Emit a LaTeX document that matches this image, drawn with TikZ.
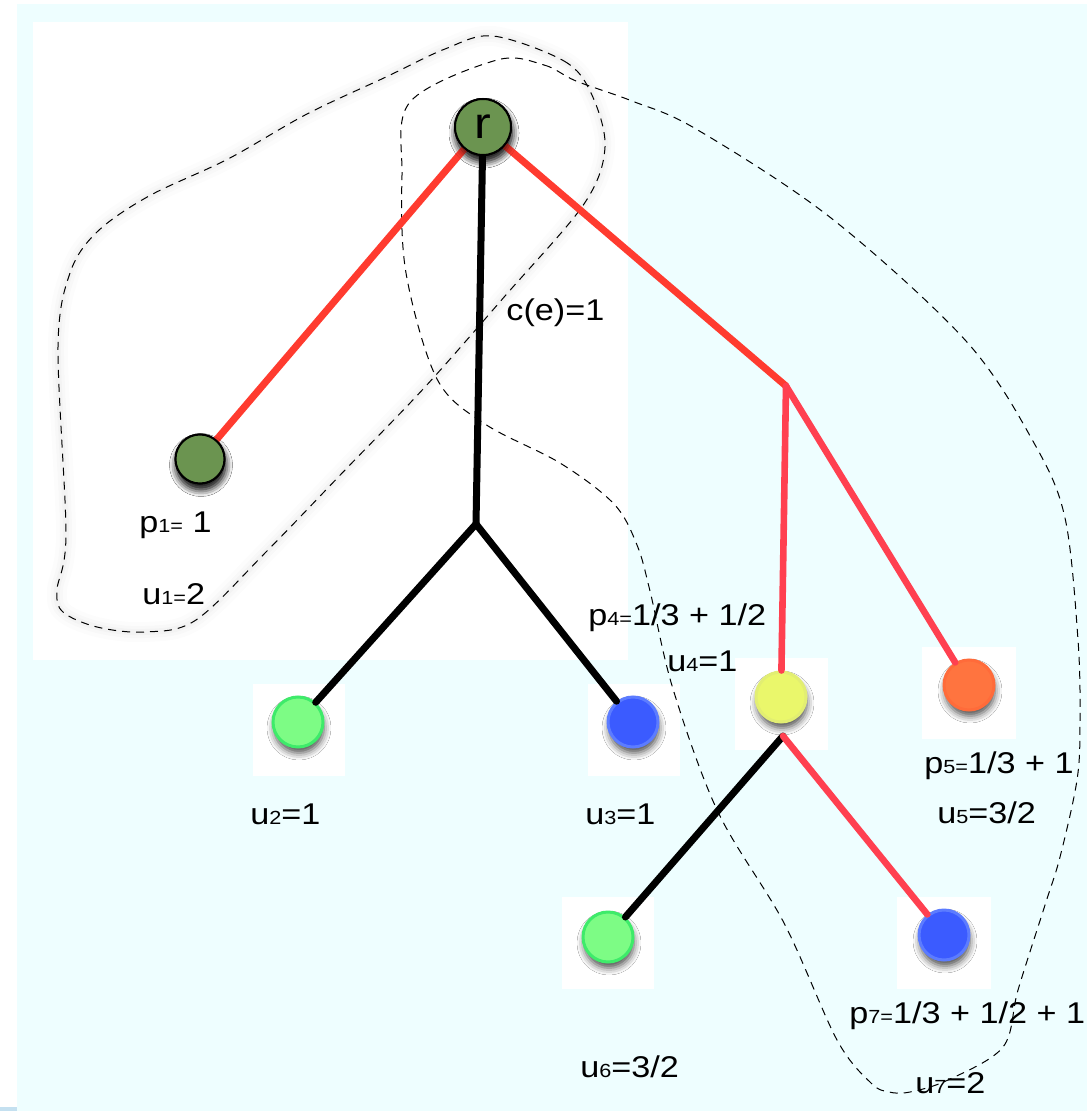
\documentclass[tikz,border=0pt]{standalone}
\usepackage{fontspec}
\setmainfont{Liberation Sans}[FakeStretch=1.14]
\usetikzlibrary{shadows.blur}
\definecolor{bgcyan}{RGB}{238,254,255}
\definecolor{cornerblue}{RGB}{196,224,240}
\definecolor{rootgreen}{RGB}{107,148,80}
\definecolor{edgeredA}{RGB}{255,59,47}
\definecolor{edgeredB}{RGB}{255,64,80}
\definecolor{lgfill}{RGB}{125,252,133}
\definecolor{lgborder}{RGB}{62,235,106}
\definecolor{bfill}{RGB}{59,91,255}
\definecolor{bborder}{RGB}{92,124,255}
\definecolor{yfill}{RGB}{234,247,107}
\definecolor{yborder}{RGB}{226,238,114}
\definecolor{ofill}{RGB}{255,116,63}
\definecolor{oborder}{RGB}{255,107,58}
\newcommand\smtxt[1]{{\fontsize{9.5}{10}\selectfont #1}}
\begin{document}
\begin{tikzpicture}[x=0.5pt,y=-0.5pt,
  lbl/.style={anchor=base west,inner sep=0pt,font=\fontsize{15}{17}\selectfont},
  dotshadow/.style={blur shadow={shadow xshift=0.5pt,shadow yshift=-3pt,shadow blur radius=3.5pt,shadow opacity=70}},
  dot/.style={circle,minimum size=25pt,inner sep=0pt,line width=1.5pt,dotshadow},
  darkdot/.style={circle,minimum size=24.5pt,inner sep=0pt,draw=black,line width=1pt,fill=rootgreen,dotshadow},
  edgeA/.style={draw=edgeredA,line width=3.5pt,line cap=round},
  edgeB/.style={draw=edgeredB,line width=3.3pt,line cap=round},
  edgeK/.style={draw=black,line width=3.5pt,line cap=round},
  cut/.style={line width=0.5pt,dash pattern=on 4pt off 3pt}]
\useasboundingbox (0,0) rectangle (1087,1111);
% background
\fill[white] (0,0) rectangle (1087,1111);
\fill[bgcyan] (17,4) rectangle (1087,1111);
\fill[cornerblue] (0,1107) rectangle (17,1111);
\fill[white] (33,22) rectangle (628,660);
% white squares behind leaf images
\fill[white] (253,684) rectangle (345,776);
\fill[white] (588,684) rectangle (680,776);
\fill[white] (735,658) rectangle (828,750);
\fill[white] (922,647) rectangle (1016,739);
\fill[white] (562,897) rectangle (654,989);
\fill[white] (897,897) rectangle (991,989);
% faint glow of left cut
\foreach \w/\o in {10pt/0.012,6pt/0.015,3pt/0.02}{
\draw[line width=\w,black,opacity=\o] plot[smooth cycle,tension=0.55] coordinates {
 (493,36) (564,61) (591,93) (605,147) (584,204) (505,296) (425,387) (346,469) (267,551) (196,620) (145,632) (97,627) (63,612) (57,590) (66,534) (58,347) (70,273) (97,232) (149,196) (228,159) (307,114) (386,77) (445,49)};
}
% dashed cuts
\draw[cut] plot[smooth cycle,tension=0.55] coordinates {
 (493,36) (564,61) (591,93) (605,147) (584,204) (505,296) (425,387) (346,469) (267,551) (196,620) (145,632) (97,627) (63,612) (57,590) (66,534) (58,347) (70,273) (97,232) (149,196) (228,159) (307,114) (386,77) (445,49)};
\draw[cut] plot[smooth cycle,tension=0.55] coordinates {
 (497,60) (544,65) (576,81) (632,101) (696,129) (831,218) (966,341) (1034,443) (1065,518) (1078,640) (1080,723) (1077,780) (1060,857) (1045,905) (1018,990) (1003,1047) (948,1080) (910,1092) (889,1092) (871,1083) (837,1040) (784,923) (718,812) (673,689) (650,591) (637,545) (614,504) (560,463) (485,424) (437,379) (406,273) (402,175) (410,102)};
% nodes (placement)
\coordinate (b1) at (476,524);
\coordinate (b2) at (786,386);
\coordinate (j4) at (783,736);
\node[darkdot,minimum size=28pt] (r) at (483,127) {};
\node[darkdot] (p1) at (200,459) {};
\node[dot,fill=lgfill,draw=lgborder] (v2) at (298,722) {};
\node[dot,fill=bfill,draw=bborder] (v3) at (633,722) {};
\node[dot,fill=yfill,draw=yborder] (v4) at (781,697) {};
\node[dot,fill=ofill,draw=oborder] (v5) at (969,685) {};
\node[dot,fill=lgfill,draw=lgborder] (v6) at (608,937) {};
\node[dot,fill=bfill,draw=bborder] (v7) at (944,935) {};
% edges
\draw[edgeA] (r) -- (p1);
\draw[edgeA] (r) -- (b2);
\draw[edgeK] (r) -- (b1);
\draw[edgeK] (b1) -- (v2);
\draw[edgeK] (b1) -- (v3);
\draw[edgeB] (b2) -- (v4);
\draw[edgeB] (b2) -- (v5);
\draw[edgeK] (j4) -- (v6);
\draw[edgeB] (j4) -- (v7);
% redraw dark nodes on top of edges
\node[darkdot,minimum size=28pt,font=\fontsize{22}{22}\selectfont] (rtop) at (r) {r};
\node[darkdot] (p1top) at (p1) {};
% labels
\node[lbl] (ce) at (506,321) {c(e)=1};
\node[lbl] (lp1) at (139,532) {p\smtxt{1=} 1};
\node[lbl] (lu1) at (142,604) {u\smtxt{1=}2};
\node[lbl] (lp4) at (588,625) {p\smtxt{4=}1/3 + 1/2};
\node[lbl] (lu4) at (667,671) {u\smtxt{4}=1};
\node[lbl] (lu2) at (250,824) {u\smtxt{2}=1};
\node[lbl] (lu3) at (585,824) {u\smtxt{3}=1};
\node[lbl] (lp5) at (924,773) {p\smtxt{5=}1/3 + 1};
\node[lbl] (lu5) at (937,823) {u\smtxt{5}=3/2};
\node[lbl] (lp7) at (849,1023) {p\smtxt{7=}1/3 + 1/2 + 1};
\node[lbl] (lu6) at (580,1077) {u\smtxt{6}=3/2};
\node[lbl] (lu7) at (915,1093) {u\smtxt{7}=2};
\end{tikzpicture}
\end{document}
